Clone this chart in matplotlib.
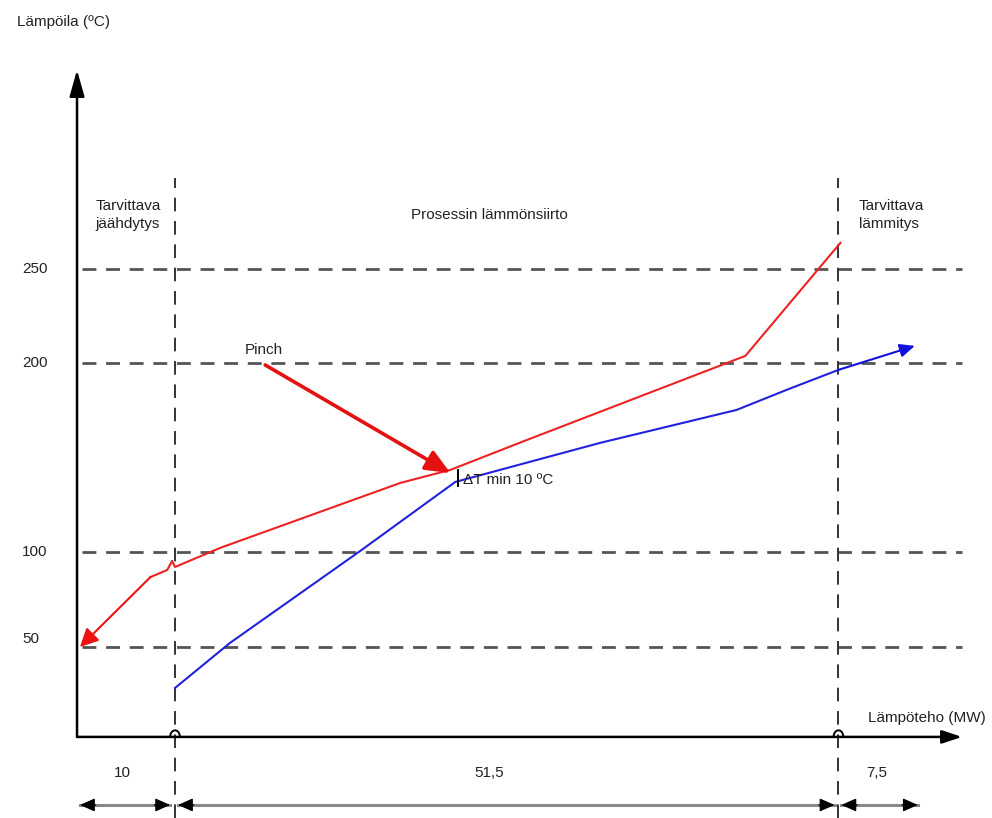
import matplotlib
matplotlib.use("Agg")
import matplotlib.pyplot as plt
import numpy as np

plt.rcParams['font.family'] = ['Liberation Sans Narrow', 'Liberation Sans', 'DejaVu Sans']

# temperature axis (deg C) and heat-flow axis (schematic units)
temp_lines = [250, 200, 100, 50]
temp_labels = ['250', '200', '100', '50']
temp_label_pos = [250, 200, 100, 54]
q_bounds = [10, 77.7]
section_labels = ['10', '51,5', '7,5']
section_centers = [4.6, 42.1, 81.6]
region_titles = ['Tarvittava\njäähdytys', 'Prosessin lämmönsiirto', 'Tarvittava\nlämmitys']
region_x = [5.2, 42.1, 79.8]
region_ha = ['center', 'center', 'left']

# hot composite curve (red), drawn from cold end to hot end
hot_q = [0.3, 7.5, 9.2, 9.7, 10.0, 14.6, 33.0, 38.1, 45.9, 68.2, 77.9]
hot_t = [50.0, 87.0, 90.7, 95.5, 92.3, 102.4, 136.8, 143.7, 159.5, 204.0, 263.8]

# cold composite curve (blue)
cold_q = [10.0, 15.6, 28.9, 38.6, 53.4, 67.3, 72.4, 77.7, 85.5]
cold_t = [28.3, 52.1, 100.8, 137.3, 158.0, 175.4, 186.0, 196.6, 209.3]

pinch_from = (19.2, 199.2)
pinch_to = (38.1, 142.0)

fig = plt.figure(figsize=(9.92, 8.18), dpi=100)
ax = fig.add_axes([0, 0, 1, 1])
ax.set_xlim(-7.86, 93.37)
ax.set_ylim(-40.5, 392.3)
ax.axis('off')

t0 = 2.4  # level of the horizontal axis

# dashed grid lines
for t in temp_lines:
    ax.plot([0.5, 90.3], [t, t], color='#555555', lw=2.0, dashes=(5, 3.5), zorder=1)
for q in q_bounds:
    ax.plot([q, q], [-40.5, 298], color='#333333', lw=1.4, dashes=(7, 5), zorder=1)

# axes with arrows
ax.annotate('', xy=(0, 355.3), xytext=(0, t0),
            arrowprops=dict(arrowstyle='-|>,head_length=1.6,head_width=0.45',
                            color='black', lw=1.8, shrinkA=0, shrinkB=0))
ax.annotate('', xy=(90.3, t0), xytext=(0, t0),
            arrowprops=dict(arrowstyle='-|>,head_length=1.2,head_width=0.4',
                            color='black', lw=1.8, shrinkA=0, shrinkB=0))
# small line-jump hops where the boundaries cross the horizontal axis
for q in q_bounds:
    s = np.linspace(0, np.pi, 12)
    ax.plot(q + 0.5 * np.cos(s), t0 + 3.5 * np.sin(s), color='black', lw=1.4, zorder=2)

# composite curves
ax.plot(hot_q[1:], hot_t[1:], color='#ee2222', lw=1.5, zorder=3)
ax.annotate('', xy=(hot_q[0], hot_t[0]), xytext=(hot_q[1], hot_t[1]),
            arrowprops=dict(arrowstyle='-|>,head_length=1.1,head_width=0.55',
                            color='#ee1111', lw=1.5, shrinkA=0, shrinkB=0), zorder=3)
ax.plot(cold_q[:-1], cold_t[:-1], color='#2222dd', lw=1.5, zorder=3)
ax.annotate('', xy=(cold_q[-1], cold_t[-1]), xytext=(cold_q[-2], cold_t[-2]),
            arrowprops=dict(arrowstyle='-|>,head_length=0.9,head_width=0.4',
                            color='#1111dd', lw=1.5, shrinkA=0, shrinkB=0), zorder=3)

# pinch arrow and marker
ax.annotate('', xy=pinch_to, xytext=pinch_from,
            arrowprops=dict(arrowstyle='-|>,head_length=1.5,head_width=0.65',
                            color='#e51010', lw=2.6, shrinkA=0, shrinkB=0), zorder=4)
ax.plot([38.9, 38.9], [135.2, 143.6], color='black', lw=1.4, zorder=5)
ax.text(17.1, 207, 'Pinch', fontsize=11, color='#222222', va='center')
ax.text(39.4, 138.4, 'ΔT min 10 ºC', fontsize=11, color='#222222', va='center')

# tick labels
for lab, t in zip(temp_labels, temp_label_pos):
    ax.text(-5.6, t, lab, fontsize=11, color='#222222', va='center', ha='left')

# axis titles
ax.text(-6.1, 380.7, 'Lämpöila (ºC)', fontsize=11, color='#222222', va='center')
ax.text(80.7, 12.4, 'Lämpöteho (MW)', fontsize=11, color='#222222', va='center')

# region titles
for txt, x, ha in zip(region_titles, region_x, region_ha):
    ax.text(x, 278.6, txt, fontsize=11, color='#222222', va='center', ha=ha,
            linespacing=1.3)

# section widths and dimension arrows
for lab, x in zip(section_labels, section_centers):
    ax.text(x, -16.7, lab, fontsize=11, color='#222222', va='center', ha='center')

dim_y = -33.6
spans = [(0.3, 9.5), (10.3, 77.3), (78.0, 85.8)]
for a, b in spans:
    ax.plot([a, b], [dim_y, dim_y], color='#888888', lw=2.2, zorder=2)
    for tip, tail in ((a, a + 1.6), (b, b - 1.6)):
        ax.annotate('', xy=(tip, dim_y), xytext=(tail, dim_y),
                    arrowprops=dict(arrowstyle='-|>,head_length=0.9,head_width=0.4',
                                    color='black', lw=1.0, shrinkA=0, shrinkB=0),
                    zorder=3)

fig.savefig('out.png', dpi=100)
